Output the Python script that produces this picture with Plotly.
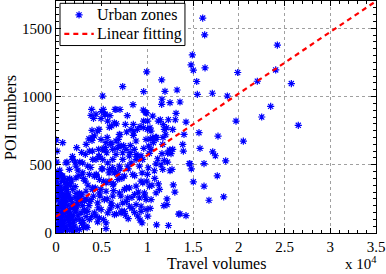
import plotly.graph_objects as go

# Urban zones: (travel volume, POI number)
zone_travel = [
    16045, 16260, 14910, 14770, 15020, 16300, 15390, 15460, 17100, 18740, 19870, 24210, 24030, 22020,
    25740, 23480, 22500, 26500, 19690, 15640, 17720, 20490, 15750, 17140, 17430, 18560, 16190, 14660,
    14800, 17640, 14000, 13860, 13930, 14580, 15020, 16190, 16730, 18340, 14220, 13560,
    9917, 11560, 7292, 9589, 11920, 13240, 5100, 11590, 11560, 12470, 13560, 8422, 9553, 6563, 7000,
    4995, 3828, 4375, 4922, 5651, 6381, 5834, 6089, 3938, 4557, 7584, 8459, 8204, 9589, 10030, 10280,
    10390, 11190, 11410, 12290, 11740, 13050, 12100, 11850, 12760, 13130, 14220, 729, 2260, 3938, 3646,
    3208, 4667, 5396, 5542, 6818, 6927, 7110, 7730, 8459, 8750, 8130, 7657, 8568, 9844, 10570, 10940,
    10650, 10140, 10390, 11670, 12400, 12760, 12210, 12580, 11590, 11120, 10210, 9298, 10940, 11850,
    12690, 12470, 11670, 10100, 10760, 12830, 12140, 12140, 13420, 9407, 5469, 4557,
    3468, 4015, 4745, 5110, 5658, 6205, 5840, 6388, 6935, 7300, 7848, 8213, 8760, 9125, 9417, 8395,
    7483, 6753, 6205, 5475, 4745, 4198, 3650, 2920, 2190, 1460, 730, 365, 1095, 1825, 2555, 3285, 4015,
    4745, 5475, 6205, 6935, 7483, 8030, 8760, 9490, 9928, 10220, 9673, 9125, 8578, 7848, 7300, 6753,
    6023, 5293, 4563, 3833, 3103, 2373, 1643, 913, 548, 1278, 2008, 2738, 3468, 4198, 4928, 5658, 6388,
    7118, 7483, 8030, 8760, 9308, 9855, 10403, 10950, 11315, 9855, 4745, 5475, 4380, 3650, 2920, 2190,
    1460, 730, 365, 1095, 1825, 2555, 3285, 9308, 8943, 10038,
    4193, 4922, 5469, 6016, 6563, 5104, 6198, 6563, 7292, 8021, 8750, 9480, 4375, 2917, 2188, 1458,
    1823, 1094, 3905, 5175, 6455, 5400, 5900, 9810, 10580, 9550, 3950, 4700,
    50, 150, 250, 80, 300, 450, 600, 200, 400, 550, 700, 850, 100, 350, 500, 650, 800, 950, 1100, 1250,
    150, 300, 450, 600, 750, 900, 1050, 1200, 1350, 1500, 1650, 1800, 50, 250, 400, 550, 700, 850, 1000,
    1150, 1300, 1450, 1600, 1750, 1900, 2050, 2200, 60, 200, 1000, 1200, 1400, 1600, 1800, 2000, 2200,
    2400, 2600, 2800, 3000, 80, 120, 30, 2500, 2700, 2900, 3100, 3300, 20, 10, 120, 350, 700, 900, 1100,
    180, 500, 1400, 1700, 2100, 2300, 380, 620, 900, 1300, 30, 60, 100, 250, 500, 750, 1000, 1300,
    1600, 1900, 2200, 2500, 2800, 3200, 3600, 4000, 4400, 4800, 5200, 5800, 6300, 7000, 7600, 8300,
    1500, 2300, 3100, 3900, 4600, 5200, 5900, 6600, 7200, 7900, 8600, 9200, 10300, 11000, 12300, 3400,
    6100, 7700, 2700, 4300,
    1300, 2100, 2800, 3500, 4100, 4900, 5600, 6300, 7100, 7700, 8300, 9000, 9700, 10500, 11200, 11800,
    2500, 3700, 5000, 6800,
    1700, 2400, 3000, 3800, 4400, 5100, 5800, 6500, 7200, 7900, 8600, 9300, 10000, 10800, 11500, 12200,
    1200, 2600, 4700, 6900,
    2800, 3300, 4000, 4700, 5300, 6000, 6700, 7400, 8100, 8900, 9600, 10300, 11000, 11700, 3600, 5600,
    7000, 8500, 9200, 10000,
    4100, 5300, 6600, 7800, 8900, 9900, 10900, 12000, 13000, 6200,
    100, 300, 600, 800, 1200, 1500, 1800, 2100, 400, 700, 1000, 1400, 1900, 2400, 2900, 3300, 200, 500,
    900, 1600
]
zone_poi = [
    1575, 1452, 1305, 1232, 1193, 1210, 1110, 1016, 1024, 1004, 1176, 1377, 1195, 1112,
    1095, 928, 850, 789, 820, 735, 710, 673, 620, 595, 566, 529, 509, 507,
    470, 419, 722, 649, 600, 509, 375, 343, 240, 265, 127, 140,
    1181, 1122, 1073, 1036, 1038, 1048, 1004, 980, 943, 955, 960, 940, 901, 905, 905,
    890, 862, 870, 838, 820, 808, 775, 785, 752, 747, 796, 796, 759, 820, 820, 771,
    747, 820, 830, 830, 794, 830, 771, 759, 759, 877, 813, 662, 625, 678, 600,
    576, 613, 625, 588, 686, 722, 637, 740, 715, 674, 642, 613, 613, 686, 698, 686,
    662, 637, 613, 649, 608, 613, 586, 581, 581, 544, 583, 566, 507, 532,
    466, 456, 466, 478, 456, 352, 250, 208, 139, 74, 32, 81,
    490, 539, 563, 539, 514, 539, 466, 441, 490, 539, 490, 514, 539, 490, 441, 429,
    417, 392, 355, 368, 392, 417, 429, 441, 404, 392, 417, 441, 343, 319, 294, 306, 319,
    294, 306, 270, 294, 319, 331, 343, 368, 380, 343, 294, 257, 282, 257, 221, 196,
    221, 245, 221, 245, 233, 221, 245, 257, 196, 159, 172, 147, 159, 147, 172, 147, 135,
    147, 159, 196, 208, 196, 172, 245, 294, 319, 245, 110, 74, 123, 98, 74, 98,
    74, 86, 49, 25, 37, 25, 49, 159, 123, 123,
    711, 686, 662, 649, 674, 613, 613, 576, 588, 564, 576, 539, 539, 514, 490, 466,
    539, 514, 906, 906, 906, 870, 860, 882, 857, 772, 700, 760,
    20, 60, 10, 120, 90, 40, 15, 180, 150, 110, 70, 30, 250, 220, 200, 170, 130, 90, 50, 20,
    320, 290, 270, 240, 210, 190, 160, 120, 90, 60, 30, 10, 380, 350, 330, 310, 290, 270, 250,
    230, 200, 170, 140, 110, 80, 50, 20, 440, 410, 330, 300, 280, 250, 220, 190, 160,
    130, 100, 70, 40, 520, 600, 680, 280, 240, 200, 170, 120, 150, 60, 30, 5, 120, 220, 280,
    130, 60, 130, 200, 260, 210, 420, 380, 400, 360, 250, 180, 300, 140, 330, 60, 370, 110,
    350, 190, 290, 420, 240, 380, 200, 330, 430, 270, 380, 440, 360, 470,
    130, 180, 110, 190, 160, 120, 185, 100, 175, 140, 160, 105, 150, 95, 180, 60,
    55, 40, 200, 230,
    280, 330, 260, 340, 280, 350, 270, 320, 250, 310, 270, 330, 260, 300, 270, 350,
    360, 200, 240, 230,
    470, 430, 380, 460, 400, 480, 420, 470, 380, 450, 400, 470, 420, 380, 430, 400,
    500, 520, 520, 520,
    560, 640, 590, 650, 600, 560, 610, 660, 620, 640, 590, 560, 620, 690, 700, 700,
    690, 700, 720, 740,
    780, 760, 840, 870, 800, 860, 760, 880, 700, 720,
    300, 480, 420, 350, 420, 380, 320, 400, 560, 520, 460, 210, 150, 90, 130, 250, 90, 250,
    60, 90
]

# Linear fit (intercept, slope)
fit_x = [0, 35000]
fit_intercept = 120
fit_slope = 0.0451
fit_y = [fit_intercept + fit_slope * v for v in fit_x]

x_tickvals = [0, 5000, 10000, 15000, 20000, 25000, 30000, 35000]
x_ticktext = ["0", "0.5", "1", "1.5", "2", "2.5", "3", "3.5"]
y_tickvals = [0, 500, 1000, 1500]
x_range = [0, 35000]
y_range = [0, 1700]

legend_labels = ["Urban zones", "Linear fitting"]

FAMILY = "Liberation Serif, serif"
font = dict(family=FAMILY, size=15, color="black")
font_big = dict(family=FAMILY, size=16, color="black")

BLUE = "#0000ff"
RED = "#ff0000"
marker_style = dict(symbol="asterisk-open", size=6, color=BLUE, line=dict(color=BLUE, width=1.2))
line_style = dict(color=RED, width=2.2, dash="5px,4px")

fig = go.Figure()
fig.add_trace(go.Scatter(
    x=zone_travel, y=zone_poi, mode="markers", name=legend_labels[0],
    marker=marker_style, showlegend=False,
))
fig.add_trace(go.Scatter(
    x=fit_x, y=fit_y, mode="lines", name=legend_labels[1],
    line=line_style, showlegend=False,
))

# Legend (MATLAB-style compact box); positions as fractions of the plot area
def fx(f):
    return x_range[0] + f * (x_range[1] - x_range[0])

def fy(f):
    return y_range[0] + f * (y_range[1] - y_range[0])

fig.add_trace(go.Scatter(
    x=[fx(0.072)], y=[fy(0.94)], mode="markers", marker=marker_style,
    showlegend=False, hoverinfo="skip",
))
fig.add_trace(go.Scatter(
    x=[fx(0.026), fx(0.118)], y=[fy(0.858), fy(0.858)], mode="lines", line=line_style,
    showlegend=False, hoverinfo="skip",
))
fig.add_shape(
    type="rect", xref="x", yref="y", x0=fx(0.0125), x1=fx(0.403), y0=fy(0.808), y1=fy(0.99),
    line=dict(color="black", width=1), fillcolor="white", layer="between",
)
for yy, label in zip([0.94, 0.858], legend_labels):
    fig.add_annotation(
        xref="paper", yref="paper", x=0.122, y=yy, xanchor="left", yanchor="middle",
        text=label, showarrow=False, font=font_big,
    )

axis_common = dict(
    showline=True, linecolor="black", linewidth=1, mirror="allticks",
    ticks="inside", ticklen=5, tickcolor="black",
    showgrid=True, gridcolor="#a0a0a0", griddash="dot", gridwidth=1,
    zeroline=False, tickfont=font, automargin=False,
)

fig.update_xaxes(
    range=x_range, tickvals=x_tickvals, ticktext=x_ticktext,
    minor=dict(ticks="inside", ticklen=3, dtick=1000, tickcolor="black", showgrid=False),
    **axis_common,
)
fig.update_yaxes(
    range=y_range, tickvals=y_tickvals,
    minor=dict(ticks="inside", ticklen=3, dtick=50, tickcolor="black", showgrid=False),
    **axis_common,
)

fig.add_annotation(
    xref="paper", yref="paper", x=0.5, y=-0.088, xanchor="center", yanchor="top",
    text="Travel volumes", showarrow=False, font=font_big,
)
fig.add_annotation(
    xref="paper", yref="paper", x=-0.144, y=0.5, xanchor="center", yanchor="middle",
    text="POI numbers", showarrow=False, font=font_big, textangle=-90,
)
fig.add_annotation(
    xref="paper", yref="paper", x=1.01, y=-0.178, xanchor="right", yanchor="bottom",
    text="x 10<sup>4</sup>", showarrow=False, font=font,
)

fig.update_layout(
    width=386, height=274,
    margin=dict(l=56, r=10, t=1, b=41, autoexpand=False),
    paper_bgcolor="white", plot_bgcolor="white",
    font=font,
    showlegend=False,
)

fig.write_html(
    "out.html",
    config={"displayModeBar": False},
    post_script="document.body.style.margin='0';document.body.style.overflow='hidden';",
)
